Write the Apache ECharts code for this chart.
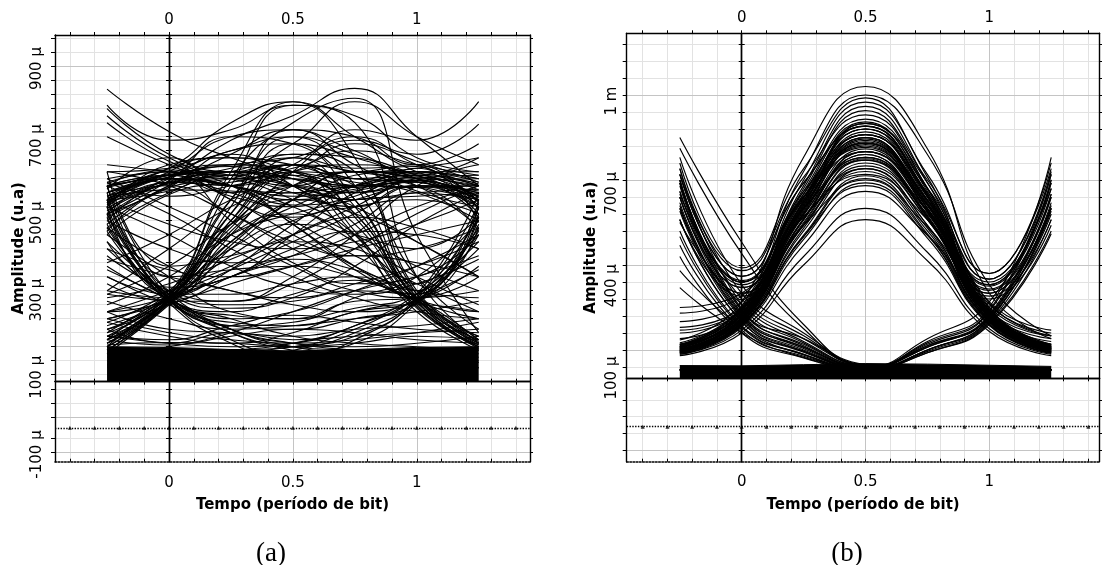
<!DOCTYPE html>
<html>
<head>
<meta charset="utf-8">
<title>Diagramas de olho</title>
<script src="https://cdn.jsdelivr.net/npm/echarts@6/dist/echarts.min.js"></script>
<style>
  html, body { margin: 0; padding: 0; background: #ffffff; }
  #chart { width: 1102px; height: 565px; }
</style>
</head>
<body>
<div id="chart"></div>
<script>
// ---------------------------------------------------------------------------
// Shared time base (bit periods). Every trace is sampled at these instants.
// ---------------------------------------------------------------------------
const sampleTimes = [-0.25, 0, 0.25, 0.5, 0.75, 1, 1.25];

const timeMinorTicks = [-0.4, -0.3, -0.2, -0.1, 0, 0.1, 0.2, 0.3, 0.4, 0.5, 0.6, 0.7, 0.8, 0.9, 1, 1.1, 1.2, 1.3, 1.4];
const timeMajorTicks = [0.5, 1];
const timeTickLabels = [0, 0.5, 1];

// ---------------------------------------------------------------------------
// Panel (a) -- amplitudes in µ (u.a)
// ---------------------------------------------------------------------------
const aLevelMinor = [20, 60, 100, 140, 180, 220, 260, 300, 340, 380, 420, 460, 500, 540, 580, 620, 660, 700, 740, 780, 820, 860, 900, 940, 980];
const aLevelMajor = [100, 300, 500, 700, 900];
const aTickLabels = [900, 700, 500, 300, 100, -100];
const aLowerGrid = [80, 40, 0, -60, -100];
const aLowerMajor = [0, -100];
const aLowerDotted = [-31];

// noisy "0" level: upper edge of the solid band
const aZeroBandTop = [100, 98, 92, 88, 92, 98, 100];

// 1 -> 1 -> 1
const aHighHold = [
  [540, 580, 560, 520, 545, 575, 530],
  [520, 545, 600, 560, 520, 540, 550],
  [500, 620, 640, 600, 540, 610, 510],
  [560, 590, 530, 500, 560, 555, 560],
  [480, 555, 660, 680, 600, 620, 490],
  [550, 640, 520, 470, 520, 530, 540],
  [510, 570, 610, 650, 640, 590, 520],
  [530, 600, 700, 720, 620, 545, 500],
  [570, 530, 560, 600, 680, 630, 570],
  [495, 565, 580, 540, 500, 560, 545],
  [836, 715, 640, 590, 560, 575, 580],
  [790, 690, 720, 790, 760, 640, 600],
  [780, 650, 600, 680, 800, 700, 620],
  [560, 610, 740, 800, 700, 600, 560],
  [520, 580, 690, 760, 838, 700, 560],
  [470, 560, 650, 720, 700, 620, 680],
  [540, 590, 620, 640, 690, 650, 736],
  [510, 600, 560, 620, 720, 690, 800],
  [700, 620, 560, 540, 590, 610, 640],
  [740, 630, 580, 610, 660, 620, 590],
  [600, 610, 660, 700, 650, 600, 600],
  [450, 560, 600, 580, 560, 570, 470],
  [525, 548, 545, 505, 530, 600, 515],
  [555, 592, 615, 580, 555, 585, 548],
  [488, 568, 590, 620, 580, 572, 505],
  [440, 540, 590, 560, 540, 575, 480],
  [460, 585, 620, 600, 570, 540, 460],
  [430, 555, 580, 620, 600, 560, 440],
  [510, 610, 640, 620, 580, 590, 495],
  [475, 572, 600, 640, 610, 615, 455],
  [505, 580, 560, 530, 550, 585, 525],
  [420, 535, 570, 590, 560, 555, 430],
  [565, 605, 590, 560, 600, 595, 565]
];
// 1 -> 1 -> 0
const aHighFall = [
  [540, 585, 620, 600, 480, 240, 110],
  [500, 570, 560, 640, 500, 230, 100],
  [560, 595, 650, 560, 450, 225, 120],
  [480, 575, 700, 680, 520, 250, 130],
  [620, 600, 580, 520, 420, 215, 95],
  [530, 580, 540, 600, 560, 300, 150],
  [760, 640, 590, 620, 470, 235, 105],
  [510, 585, 600, 560, 400, 200, 90],
  [560, 580, 560, 450, 330, 235, 200],
  [520, 590, 600, 580, 420, 240, 260],
  [570, 600, 560, 450, 320, 230, 180]
];
// 0 -> 1 -> 1
const aRiseHold = [
  [110, 235, 430, 560, 600, 580, 520],
  [90, 230, 460, 620, 580, 570, 540],
  [130, 240, 400, 500, 560, 590, 560],
  [150, 250, 480, 680, 640, 580, 500],
  [100, 225, 420, 600, 700, 620, 560],
  [170, 260, 450, 540, 520, 575, 530],
  [120, 235, 500, 720, 660, 590, 640],
  [80, 220, 390, 520, 600, 600, 580],
  [200, 235, 400, 520, 560, 580, 560],
  [260, 240, 450, 600, 620, 590, 520],
  [180, 230, 320, 450, 560, 600, 570]
];
// 0 -> 1 -> 0
const aIsolatedOne = [
  [110, 235, 520, 700, 560, 240, 110],
  [130, 240, 560, 790, 740, 300, 120],
  [100, 230, 480, 620, 520, 230, 100],
  [150, 250, 600, 800, 640, 250, 130],
  [90, 225, 440, 560, 480, 220, 105],
  [120, 240, 580, 740, 810, 420, 140],
  [140, 245, 520, 650, 600, 260, 115],
  [110, 235, 460, 600, 430, 210, 100]
];
// 1 -> 0 -> 1
const aDipRise = [
  [480, 235, 170, 160, 200, 235, 450],
  [520, 240, 190, 180, 230, 240, 480],
  [450, 230, 160, 150, 180, 225, 420],
  [560, 260, 220, 230, 260, 250, 500],
  [500, 250, 250, 280, 300, 260, 520],
  [540, 300, 320, 330, 300, 250, 470],
  [600, 330, 360, 400, 380, 280, 500],
  [470, 235, 200, 250, 290, 240, 440]
];
// slow / jittered edges crossing the eye
const aSlowEdges = [
  [560, 590, 520, 420, 330, 240, 120],
  [120, 240, 320, 400, 480, 560, 560],
  [530, 560, 480, 380, 300, 230, 110],
  [100, 230, 300, 360, 450, 540, 520],
  [580, 600, 460, 340, 280, 300, 420],
  [140, 250, 380, 450, 420, 380, 470],
  [380, 240, 150, 110, 90, 80, 70],
  [300, 220, 160, 170, 240, 300, 460],
  [260, 380, 500, 560, 600, 580, 540],
  [340, 420, 520, 580, 540, 560, 500],
  [220, 300, 420, 480, 520, 560, 530],
  [420, 300, 200, 180, 210, 250, 380],
  [360, 260, 230, 280, 380, 480, 560],
  [200, 260, 330, 420, 500, 580, 590],
  [440, 330, 260, 240, 280, 330, 400],
  [250, 235, 300, 380, 430, 420, 380],
  [520, 580, 560, 500, 420, 330, 260],
  [540, 590, 600, 560, 500, 400, 300],
  [120, 235, 420, 480, 400, 300, 220],
  [480, 570, 540, 460, 360, 280, 200],
  [80, 100, 140, 200, 260, 300, 360]
];
// wandering traces through the middle of the eye
const aMidCrossing = [
  [300, 250, 380, 520, 600, 560, 520],
  [180, 240, 360, 460, 500, 520, 480],
  [400, 270, 300, 420, 540, 600, 580],
  [460, 380, 340, 360, 420, 500, 560],
  [520, 450, 400, 380, 400, 450, 520],
  [580, 500, 420, 330, 260, 240, 300],
  [160, 220, 280, 330, 380, 420, 460],
  [350, 300, 260, 220, 200, 230, 330],
  [240, 280, 350, 420, 470, 440, 380],
  [600, 560, 480, 400, 360, 380, 440],
  [430, 250, 210, 240, 330, 450, 540],
  [330, 235, 180, 200, 260, 330, 420],
  [280, 230, 230, 300, 420, 560, 620],
  [500, 420, 330, 270, 250, 280, 350],
  [200, 240, 300, 350, 320, 260, 240],
  [560, 480, 380, 300, 240, 200, 180],
  [250, 330, 450, 520, 480, 400, 300],
  [380, 320, 300, 330, 360, 340, 300]
];
// 1 -> 0 -> 0
const aFallHold = [
  [480, 235, 120, 70, 60, 50, 40],
  [520, 240, 140, 90, 70, 60, 55],
  [440, 225, 110, 60, 50, 45, 40],
  [560, 250, 150, 100, 80, 70, 60],
  [500, 235, 180, 130, 110, 100, 90],
  [320, 235, 140, 100, 90, 85, 80],
  [400, 250, 150, 110, 100, 110, 130]
];
// 0 -> 0 -> 1
const aLowRise = [
  [40, 45, 50, 60, 120, 235, 470],
  [60, 55, 70, 90, 140, 240, 510],
  [50, 50, 60, 80, 110, 225, 440],
  [70, 80, 90, 110, 160, 250, 540],
  [45, 60, 80, 100, 130, 230, 430],
  [80, 85, 90, 100, 150, 235, 320],
  [130, 110, 100, 110, 160, 250, 400]
];
// 0 -> 0 -> 0 excursions above the band
const aLowNoise = [
  [150, 110, 140, 120, 130, 140, 150],
  [120, 105, 130, 150, 140, 120, 110],
  [180, 140, 120, 110, 120, 140, 170],
  [200, 150, 140, 130, 150, 160, 180],
  [105, 112, 110, 100, 110, 130, 120],
  [230, 180, 150, 160, 180, 200, 230],
  [130, 120, 160, 190, 170, 150, 140],
  [170, 130, 110, 140, 200, 220, 200]
];

// ---------------------------------------------------------------------------
// Panel (b) -- amplitudes in µ (u.a)
// ---------------------------------------------------------------------------
const bLevelMinor = [40, 100, 160, 220, 280, 340, 400, 460, 520, 580, 640, 700, 760, 820, 880, 940, 1000, 1060, 1120, 1180];
const bLevelMajor = [100, 400, 700, 1000];
const bTickLabels = [1000, 700, 400, 100];
const bLowerGrid = [-76, -136, -196, -256];
const bLowerMajor = [-256];
const bLowerDotted = [-171];

const bZeroBandTop = [45, 44, 48, 52, 50, 46, 42];

// 0 -> 1 -> 0
const bPulseIsolated = [
  [105, 215, 590, 830, 600, 215, 105],
  [100, 205, 560, 790, 575, 205, 100],
  [110, 225, 620, 870, 630, 225, 110],
  [95, 195, 520, 740, 540, 200, 95],
  [115, 235, 650, 905, 660, 235, 115],
  [90, 185, 490, 690, 505, 190, 90],
  [85, 170, 430, 600, 445, 175, 85],
  [120, 245, 680, 960, 690, 245, 120],
  [100, 210, 575, 810, 590, 212, 102],
  [108, 220, 605, 850, 615, 220, 108],
  [92, 190, 505, 715, 520, 195, 92],
  [112, 230, 635, 890, 645, 230, 112],
  [135, 270, 780, 1030, 810, 300, 140],
  [125, 255, 730, 1000, 790, 330, 150],
  [80, 160, 400, 560, 415, 165, 80],
  [120, 250, 700, 975, 710, 250, 120],
  [100, 212, 595, 845, 610, 218, 104],
  [96, 200, 550, 775, 565, 204, 98],
  [112, 228, 640, 880, 650, 228, 110],
  [104, 214, 610, 820, 585, 210, 100],
  [90, 195, 530, 760, 560, 205, 96],
  [116, 238, 660, 915, 672, 236, 114],
  [108, 222, 615, 860, 640, 226, 109],
  [98, 206, 565, 800, 600, 214, 102],
  [94, 198, 540, 730, 530, 198, 94],
  [110, 226, 628, 900, 668, 240, 116],
  [102, 210, 580, 835, 625, 222, 106],
  [88, 186, 500, 680, 495, 186, 88],
  [160, 240, 600, 840, 610, 240, 150],
  [200, 270, 620, 860, 640, 260, 160],
  [140, 225, 560, 800, 590, 225, 130],
  [230, 290, 650, 880, 650, 270, 170],
  [180, 250, 580, 780, 570, 230, 140],
  [250, 300, 640, 850, 600, 250, 150],
  [120, 210, 540, 750, 560, 215, 120],
  [170, 245, 610, 900, 690, 265, 150]
];
// 0 -> 1 -> 1
const bPulseThenOne = [
  [100, 210, 585, 825, 615, 330, 690],
  [95, 200, 545, 770, 580, 310, 640],
  [110, 225, 625, 880, 655, 350, 720],
  [105, 215, 600, 850, 630, 300, 600],
  [90, 190, 500, 705, 535, 290, 560],
  [118, 240, 670, 945, 700, 370, 760],
  [98, 205, 560, 790, 595, 340, 700],
  [85, 180, 470, 660, 505, 280, 540]
];
// 1 -> 1 -> 0
const bOneThenPulse = [
  [690, 340, 640, 830, 600, 215, 105],
  [640, 320, 600, 780, 570, 205, 100],
  [720, 360, 690, 890, 640, 230, 112],
  [600, 300, 570, 740, 540, 200, 95],
  [740, 380, 710, 930, 670, 238, 118],
  [560, 290, 540, 700, 510, 190, 90],
  [700, 345, 640, 815, 590, 212, 104],
  [660, 330, 660, 860, 620, 222, 108]
];
// 1 -> 1 -> 1
const bPulseRun = [
  [690, 340, 640, 830, 630, 330, 690],
  [720, 360, 690, 890, 670, 350, 730],
  [640, 320, 600, 770, 590, 315, 650],
  [700, 340, 630, 800, 610, 325, 670],
  [760, 390, 740, 990, 720, 370, 740],
  [600, 300, 570, 720, 560, 300, 600]
];
// 1 -> 0 -> 0
const bFallHold = [
  [850, 480, 190, 45, 32, 30, 30],
  [812, 440, 175, 42, 31, 30, 30],
  [610, 215, 100, 36, 30, 30, 30],
  [560, 200, 92, 35, 30, 30, 30],
  [660, 230, 110, 38, 30, 30, 30],
  [700, 245, 115, 40, 31, 30, 30],
  [520, 185, 85, 34, 30, 30, 30],
  [740, 260, 125, 42, 31, 30, 30],
  [470, 170, 78, 33, 30, 30, 30],
  [640, 225, 105, 37, 30, 30, 30],
  [590, 210, 96, 36, 30, 30, 30],
  [430, 160, 72, 32, 30, 30, 30],
  [680, 240, 140, 44, 31, 30, 30],
  [720, 300, 150, 46, 32, 30, 30],
  [380, 180, 82, 33, 30, 30, 30],
  [320, 160, 74, 32, 30, 30, 30],
  [780, 330, 160, 48, 32, 30, 30],
  [550, 260, 130, 40, 30, 30, 30],
  [650, 280, 140, 44, 31, 30, 30]
];
// 1 -> 0 -> 1
const bFallRise = [
  [620, 220, 110, 40, 110, 220, 610],
  [560, 200, 95, 36, 100, 210, 580],
  [690, 240, 120, 42, 115, 225, 650],
  [500, 180, 85, 34, 90, 195, 520]
];
// 0 -> 0 -> 1
const bLowRise = [
  [30, 30, 30, 32, 100, 210, 590],
  [30, 30, 30, 34, 110, 220, 640],
  [30, 30, 30, 32, 95, 200, 560],
  [30, 30, 30, 36, 120, 235, 700],
  [30, 30, 30, 34, 130, 250, 780],
  [30, 30, 30, 31, 90, 190, 510],
  [30, 30, 30, 33, 115, 215, 620],
  [30, 30, 30, 35, 125, 240, 720],
  [30, 30, 30, 32, 100, 205, 600],
  [30, 30, 30, 36, 140, 270, 670]
];

// ---------------------------------------------------------------------------
// Drawing
// ---------------------------------------------------------------------------
const FONT = 'DejaVu Sans';
const INK = '#000000';
const MINOR = '#e2e2e2';
const MAJOR = '#c4c4c4';
const X_TITLE = 'Tempo (período de bit)';
const Y_TITLE = 'Amplitude (u.a)';

const microLabel = v => v + ' µ';
const milliMicroLabel = v => (Math.abs(v) >= 1000 ? (v / 1000) + ' m' : v + ' µ');

const panels = [
  {
    left: 55, width: 475, mainTop: 35, mainHeight: 346.7, lowerHeight: 80,
    time: [-0.46, 1.457], main: [0, 990.6], lower: [-128, 101], labels: [-118.7, 986.8],
    levelMinor: aLevelMinor, levelMajor: aLevelMajor, tickLabels: aTickLabels, fmt: microLabel,
    lowerGrid: aLowerGrid, lowerMajor: aLowerMajor, lowerDotted: aLowerDotted,
    band: aZeroBandTop,
    traces: [aHighHold, aHighFall, aRiseHold, aIsolatedOne, aDipRise, aSlowEdges, aMidCrossing, aFallHold, aLowRise, aLowNoise],
    labelMargin: 10, topMargin: 7, bottomMargin: 14, yNameGap: 28,
    caption: '(a)', captionX: 266
  },
  {
    left: 626.7, width: 472.8, mainTop: 33.3, mainHeight: 345, lowerHeight: 83.4,
    time: [-0.4645, 1.445], main: [0, 1217.7], lower: [-295, 0], labels: [-171.9, 1220],
    levelMinor: bLevelMinor, levelMajor: bLevelMajor, tickLabels: bTickLabels, fmt: milliMicroLabel,
    lowerGrid: bLowerGrid, lowerMajor: bLowerMajor, lowerDotted: bLowerDotted,
    band: bZeroBandTop,
    traces: [bPulseIsolated, bPulseThenOne, bOneThenPulse, bPulseRun, bFallHold, bFallRise, bLowRise],
    labelMargin: 7.5, topMargin: 8, bottomMargin: 13, yNameGap: 28,
    caption: '(b)', captionX: 842
  }
];

const option = {
  animation: false,
  backgroundColor: '#ffffff',
  textStyle: { fontFamily: FONT },
  title: [], grid: [], xAxis: [], yAxis: [], series: []
};

const toPoints = values => values.map((v, i) => [sampleTimes[i], v]);
const spine = (extra) => Object.assign({ show: true, onZero: false, lineStyle: { color: INK, width: 1.4 } }, extra || {});
const ticks = (vals, len, inside) => ({ show: true, inside: !!inside, length: len, customValues: vals, lineStyle: { color: INK, width: 1 } });
const tickText = (vals, margin) => ({ show: true, customValues: vals, margin: margin, fontSize: 15, color: INK, fontFamily: FONT });
const boldName = { fontFamily: FONT, fontWeight: 'bold', fontSize: 15, color: INK };

function addPanel(p) {
  const gMain = option.grid.length;
  option.grid.push({ left: p.left, top: p.mainTop, width: p.width, height: p.mainHeight, outerBoundsMode: 'none' });
  const gLower = option.grid.length;
  option.grid.push({ left: p.left, top: p.mainTop + p.mainHeight, width: p.width, height: p.lowerHeight, outerBoundsMode: 'none' });
  const gLabel = option.grid.length;
  option.grid.push({ left: p.left, top: p.mainTop, width: p.width, height: p.mainHeight + p.lowerHeight, outerBoundsMode: 'none' });

  const [tMin, tMax] = p.time;

  // --- x axes
  const xMain = option.xAxis.length;
  option.xAxis.push({
    type: 'value', gridIndex: gMain, min: tMin, max: tMax, position: 'bottom',
    axisLine: spine(), axisTick: ticks(timeMinorTicks, 3, true), axisLabel: { show: false },
    splitLine: { show: true, lineStyle: { color: MINOR, width: 1 } }
  });
  option.xAxis.push({
    type: 'value', gridIndex: gMain, min: tMin, max: tMax, position: 'top',
    axisLine: spine(), axisTick: ticks(timeMinorTicks, 3, false),
    axisLabel: tickText(timeTickLabels, p.topMargin), splitLine: { show: false }
  });
  const xLower = option.xAxis.length;
  option.xAxis.push({
    type: 'value', gridIndex: gLower, min: tMin, max: tMax, position: 'bottom',
    axisLine: { show: true, onZero: false, lineStyle: { color: INK, width: 1.6, type: 'dotted' } },
    axisTick: ticks(timeMinorTicks, 3, true), axisLabel: tickText(timeTickLabels, p.bottomMargin),
    splitLine: { show: true, lineStyle: { color: MINOR, width: 1 } },
    name: X_TITLE, nameLocation: 'middle', nameGap: 36, nameMoveOverlap: false, nameTextStyle: boldName
  });
  option.xAxis.push({
    type: 'value', gridIndex: gLower, min: tMin, max: tMax, position: 'top',
    axisLine: spine(), axisTick: ticks(timeMinorTicks, 3, true), axisLabel: { show: false }, splitLine: { show: false }
  });
  option.xAxis.push({ type: 'value', gridIndex: gLabel, min: tMin, max: tMax, show: false });

  // --- y axes: main panel
  const yMain = option.yAxis.length;
  option.yAxis.push({
    type: 'value', gridIndex: gMain, min: p.main[0], max: p.main[1], position: 'left',
    axisLine: spine(), axisTick: ticks(p.levelMinor, 4, false), axisLabel: { show: false },
    splitLine: { show: true, lineStyle: { color: MINOR, width: 1 } }
  });
  option.yAxis.push({
    type: 'value', gridIndex: gMain, min: p.main[0], max: p.main[1], position: 'right',
    axisLine: spine(), axisTick: ticks(p.levelMinor, 3, false), axisLabel: { show: false }, splitLine: { show: false }
  });
  [false, true].forEach(inside => option.yAxis.push({
    type: 'value', gridIndex: gMain, min: p.main[0], max: p.main[1], position: 'left',
    axisLine: { show: true, onZero: true, lineStyle: { color: INK, width: 1.4 } },
    axisTick: ticks(p.levelMinor, 3, inside), axisLabel: { show: false }, splitLine: { show: false }
  }));

  // --- y axes: lower panel
  const yLower = option.yAxis.length;
  option.yAxis.push({
    type: 'value', gridIndex: gLower, min: p.lower[0], max: p.lower[1], position: 'left',
    axisLine: spine(), axisTick: ticks(p.lowerGrid, 4, false), axisLabel: { show: false },
    splitLine: { show: true, lineStyle: { color: MINOR, width: 1 } }
  });
  option.yAxis.push({
    type: 'value', gridIndex: gLower, min: p.lower[0], max: p.lower[1], position: 'right',
    axisLine: spine(), axisTick: ticks(p.lowerGrid, 3, false), axisLabel: { show: false }, splitLine: { show: false }
  });
  [false, true].forEach(inside => option.yAxis.push({
    type: 'value', gridIndex: gLower, min: p.lower[0], max: p.lower[1], position: 'left',
    axisLine: { show: true, onZero: true, lineStyle: { color: INK, width: 1.4 } },
    axisTick: ticks(p.lowerGrid, 3, inside), axisLabel: { show: false }, splitLine: { show: false }
  }));

  // --- y axis carrying the amplitude labels and title for both panels
  option.yAxis.push({
    type: 'value', gridIndex: gLabel, min: p.labels[0], max: p.labels[1], position: 'left',
    axisLine: { show: false, onZero: false }, axisTick: { show: false }, splitLine: { show: false },
    axisLabel: Object.assign(tickText(p.tickLabels, p.labelMargin), { rotate: 90, formatter: p.fmt }),
    name: Y_TITLE, nameLocation: 'middle', nameRotate: 90, nameGap: p.yNameGap, nameMoveOverlap: false,
    nameTextStyle: boldName
  });

  // --- stronger grid lines and decision markers (kept underneath the traces)
  option.series.push({
    type: 'line', xAxisIndex: xMain, yAxisIndex: yMain, data: [], silent: true, z: 0,
    markLine: {
      silent: true, symbol: 'none', animation: false, z: 0, label: { show: false },
      lineStyle: { color: MAJOR, width: 1, type: 'solid' },
      data: p.levelMajor.map(v => ({ yAxis: v })).concat(timeMajorTicks.map(t => ({ xAxis: t })))
    }
  });
  option.series.push({
    type: 'line', xAxisIndex: xLower, yAxisIndex: yLower, data: [], silent: true, z: 0,
    markLine: {
      silent: true, symbol: 'none', animation: false, z: 0, label: { show: false },
      lineStyle: { color: MAJOR, width: 1, type: 'solid' },
      data: p.lowerMajor.map(v => ({ yAxis: v }))
        .concat(timeMajorTicks.map(t => ({ xAxis: t })))
        .concat(p.lowerDotted.map(v => ({ yAxis: v, lineStyle: { color: INK, width: 1.4, type: 'dotted' } })))
    }
  });
  // small markers along the decision line, one per time tick
  p.lowerDotted.forEach(level => option.series.push({
    type: 'scatter', xAxisIndex: xLower, yAxisIndex: yLower, silent: true, z: 2,
    data: timeMinorTicks.map(t => [t, level]),
    symbol: 'triangle', symbolSize: 4, itemStyle: { color: INK }
  }));

  // --- solid "0" level band
  option.series.push({
    type: 'line', xAxisIndex: xMain, yAxisIndex: yMain, data: toPoints(p.band),
    symbol: 'none', silent: true, z: 3,
    lineStyle: { color: INK, width: 1 },
    areaStyle: { color: INK, opacity: 1, origin: 'start' }
  });

  // --- eye traces
  p.traces.forEach(group => group.forEach(trace => option.series.push({
    type: 'line', xAxisIndex: xMain, yAxisIndex: yMain, data: toPoints(trace),
    smooth: 0.5, symbol: 'none', silent: true, z: 3,
    lineStyle: { color: INK, width: 1.15 }
  })));

  // --- caption
  option.title.push({
    text: p.caption, left: p.captionX, top: 535, textAlign: 'center',
    textStyle: { fontFamily: 'Liberation Serif', fontSize: 27, fontWeight: 'normal', color: INK }
  });
}

panels.forEach(addPanel);

const chart = echarts.init(document.getElementById('chart'), null, { renderer: 'canvas' });
chart.setOption(option);
</script>
</body>
</html>
